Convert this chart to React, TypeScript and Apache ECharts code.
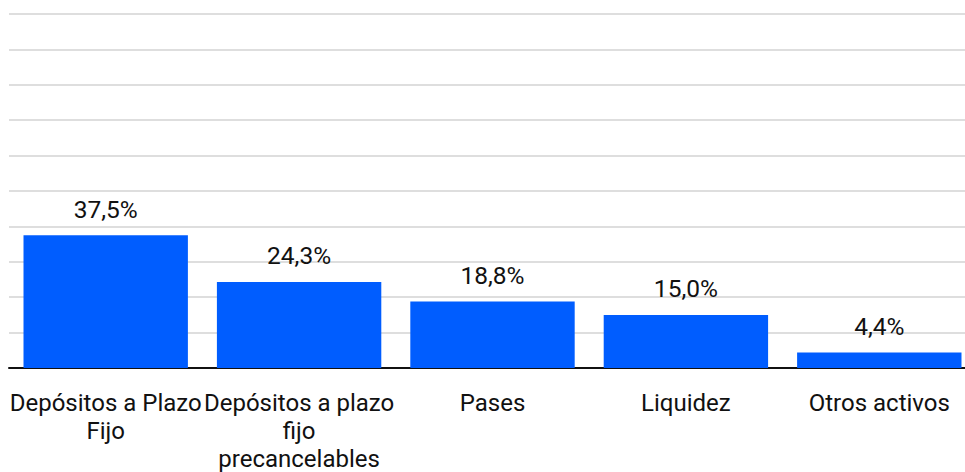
import React, { useEffect, useRef } from "react";
import * as echarts from "echarts";

const categories = [
  "Depósitos a Plazo\nFijo",
  "Depósitos a plazo\nfijo\nprecancelables",
  "Pases",
  "Liquidez",
  "Otros activos",
];
const values = [37.5, 24.3, 18.8, 15.0, 4.4];
const yMin = 0;
const yMax = 100;
const yInterval = 10;

const FONT = "Roboto, 'Liberation Sans', Arial, sans-serif";

export default function App() {
  const ref = useRef<HTMLDivElement>(null);
  useEffect(() => {
    if (!ref.current) return;
    const chart = echarts.init(ref.current, null, { renderer: "svg" });
    chart.setOption({
      animation: false,
      grid: {
        left: 9,
        width: 967,
        top: 14,
        bottom: 104,
        containLabel: false,
        outerBoundsMode: "none",
      },
      xAxis: {
        type: "category",
        data: categories,
        axisLine: { show: true, lineStyle: { color: "#111", width: 2 } },
        axisTick: { show: false },
        axisLabel: {
          interval: 0,
          margin: 21,
          color: "#111",
          fontFamily: FONT,
          fontSize: 24,
          lineHeight: 28,
        },
      },
      yAxis: {
        type: "value",
        min: yMin,
        max: yMax,
        interval: yInterval,
        axisLabel: { show: false },
        axisLine: { show: false },
        axisTick: { show: false },
        splitLine: { show: true, lineStyle: { color: "#dedede", width: 2 } },
      },
      series: [
        {
          type: "bar",
          data: values,
          barCategoryGap: "15%",
          itemStyle: { color: "#005dff" },
          label: {
            show: true,
            position: "top",
            distance: 14,
            color: "#111",
            fontFamily: FONT,
            fontSize: 24.5,
            lineHeight: 24,
            formatter: (p: any) => p.value.toFixed(1).replace(".", ",") + "%",
          },
        },
      ],
    });
    return () => chart.dispose();
  }, []);
  return <div ref={ref} style={{ width: 965, height: 472, position: "absolute", left: 0, top: 0 }} />;
}
